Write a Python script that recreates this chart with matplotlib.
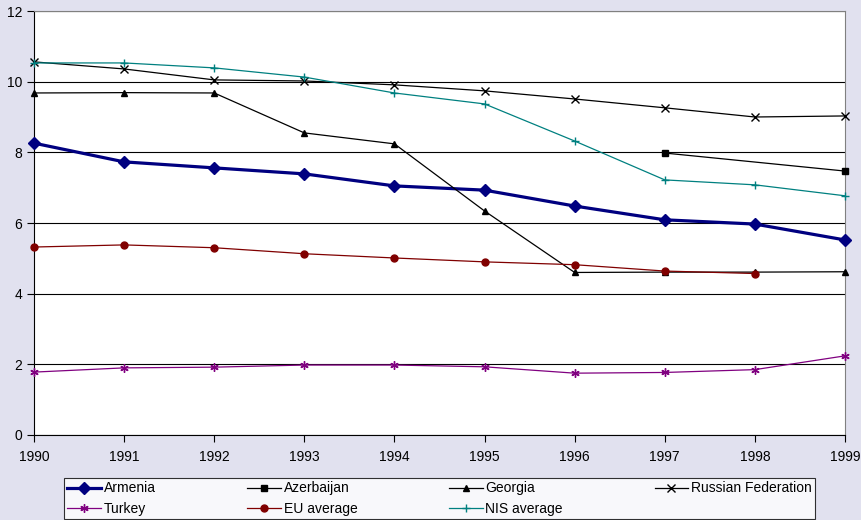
import numpy as np
import matplotlib.pyplot as plt

plt.rcParams['font.family'] = ['Liberation Sans', 'DejaVu Sans']

years = [1990, 1991, 1992, 1993, 1994, 1995, 1996, 1997, 1998, 1999]

armenia = [8.26, 7.73, 7.56, 7.39, 7.05, 6.93, 6.48, 6.09, 5.97, 5.52]
azerbaijan = [np.nan, np.nan, np.nan, np.nan, np.nan, np.nan, np.nan, 7.98, np.nan, 7.47]
georgia = [9.68, 9.69, 9.68, 8.55, 8.24, 6.34, 4.60, 4.61, 4.61, 4.62]
russia = [10.56, 10.36, 10.05, 10.02, 9.91, 9.74, 9.51, 9.26, 9.00, 9.03]
turkey = [1.78, 1.90, 1.92, 1.98, 1.98, 1.93, 1.75, 1.77, 1.85, 2.24]
eu_avg = [5.32, 5.38, 5.30, 5.13, 5.01, 4.90, 4.82, 4.64, 4.57, np.nan]
nis_avg = [10.53, 10.53, 10.39, 10.13, 9.68, 9.37, 8.32, 7.22, 7.08, 6.77]

series = [
    ('Armenia', armenia, '#000080', 'D', 2.3, 6.5),
    ('Azerbaijan', azerbaijan, 'black', 's', 0.9, 4.8),
    ('Georgia', georgia, 'black', '^', 0.9, 4.8),
    ('Russian Federation', russia, 'black', 'x', 0.9, 5.5),
    ('Turkey', turkey, '#800080', (6, 2, 0), 0.9, 6),
    ('EU average', eu_avg, '#800000', 'o', 0.9, 5),
    ('NIS average', nis_avg, '#008080', '+', 0.9, 5.5),
]

bg = '#e1e1ef'
fig = plt.figure(figsize=(8.61, 5.2), dpi=100, facecolor=bg)
ax = fig.add_axes([34 / 861, 1 - 435 / 520, 811 / 861, 424 / 520])
ax.set_facecolor('white')

x = np.array(years)
handles = []
for name, vals, color, marker, lw, ms in series:
    v = np.array(vals, dtype=float)
    ok = np.isfinite(v)
    h, = ax.plot(x[ok], v[ok], color=color, marker=marker, lw=lw, ms=ms,
                 mew=1.0, label=name, clip_on=False, zorder=3)
    handles.append(h)

ax.set_xlim(1990, 1999)
ax.set_ylim(0, 12)
ax.set_xticks(years)
ax.set_yticks(range(0, 13, 2))
ax.yaxis.grid(True, color='black', lw=0.8)
ax.set_axisbelow(True)
ax.tick_params(direction='out', length=5, width=0.8, labelsize=10, colors='black')
ax.tick_params(axis='x', pad=6)
for s in ['top', 'right']:
    ax.spines[s].set_color('#808080')
for s in ['left', 'bottom']:
    ax.spines[s].set_color('black')

# legend fills column by column, so reorder to read row by row
order = [0, 4, 1, 5, 2, 6, 3]
hs = [handles[i] for i in order]
leg = fig.legend(hs, [h.get_label() for h in hs], loc='upper left', ncol=4,
                 mode='expand',
                 bbox_to_anchor=(64 / 861, 0, 751 / 861, 1 - 478 / 520),
                 fontsize=10, frameon=True, fancybox=False,
                 edgecolor='black', handlelength=2.4, handletextpad=0.2,
                 borderpad=0.25, labelspacing=0.45, borderaxespad=0)
leg.get_frame().set_linewidth(0.8)

fig.savefig('out.png', dpi=100, facecolor=bg)
